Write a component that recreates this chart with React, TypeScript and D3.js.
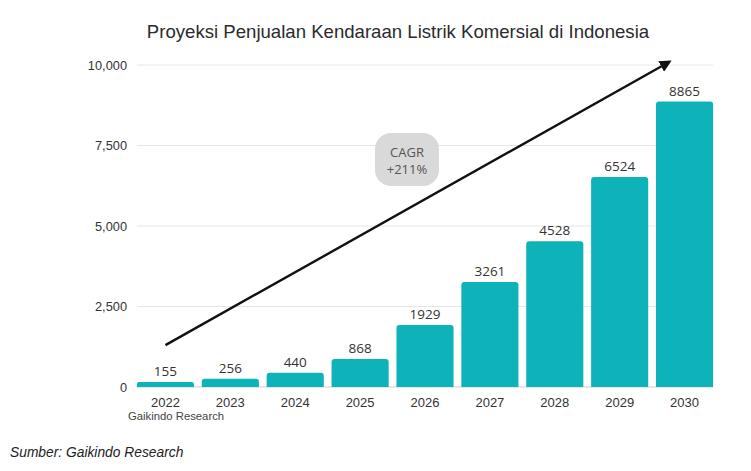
import React from 'react';
import * as d3 from 'd3';

const years = ['2022', '2023', '2024', '2025', '2026', '2027', '2028', '2029', '2030'];
const sales = [155, 256, 440, 868, 1929, 3261, 4528, 6524, 8865];
const yTicks = [0, 2500, 5000, 7500, 10000];
const cagrLines = ['CAGR', '+211%'];
// arrow from / to, in data terms: [year, value]
const arrowFrom: [string, number] = ['2022', 1300];
const arrowTo: [string, number] = ['2030', 10100];

const width = 751;
const height = 471;

const App = () => {
    const x = d3.scaleBand().domain(years).range([133, 717]).paddingInner(0.12).paddingOuter(0.06);
    const y = d3.scaleLinear().domain([0, 10000]).range([387, 65]);
    const fmt = d3.format(',');

    const barPath = (x0: number, y0: number, w: number, h: number) => {
        const r = Math.min(3, h / 2);
        const p = d3.path();
        p.moveTo(x0, y0 + h);
        p.lineTo(x0, y0 + r);
        p.quadraticCurveTo(x0, y0, x0 + r, y0);
        p.lineTo(x0 + w - r, y0);
        p.quadraticCurveTo(x0 + w, y0, x0 + w, y0 + r);
        p.lineTo(x0 + w, y0 + h);
        p.closePath();
        return p.toString();
    };

    const ax1 = x(arrowFrom[0])! + x.bandwidth() / 2;
    const ay1 = y(arrowFrom[1]);
    const ax2 = x(arrowTo[0])! + x.bandwidth() / 2 - 15;
    const ay2 = y(arrowTo[1]);

    return (
        <svg width={width} height={height} style={{ position: 'absolute', left: 0, top: 0, background: '#fff' }}>
            <defs>
                <marker id="arrowHead" viewBox="0 0 10 10" refX="8" refY="5" markerWidth="5" markerHeight="5" orient="auto">
                    <path d="M0,0 L10,5 L0,10 z" fill="#111" />
                </marker>
            </defs>
            <text x={398} y={38} textAnchor="middle" fontFamily="Liberation Sans, Arial, sans-serif" fontSize={18.6} fill="#2b2b2b">
                Proyeksi Penjualan Kendaraan Listrik Komersial di Indonesia
            </text>
            {yTicks.map((t) => (
                <g key={t}>
                    {t > 0 && <line x1={137} x2={713} y1={y(t)} y2={y(t)} stroke="#e6e6e6" strokeWidth={1} />}
                    <text x={127} y={y(t) + 4.5} textAnchor="end" fontFamily="Liberation Sans, Arial, sans-serif" fontSize={12.8} fill="#333">
                        {fmt(t)}
                    </text>
                </g>
            ))}
            <line x1={137} x2={713} y1={y(0)} y2={y(0)} stroke="#cfcfcf" strokeWidth={1} />
            {years.map((yr, i) => {
                const bx = x(yr)!;
                const by = y(sales[i]);
                return (
                    <g key={yr}>
                        <path d={barPath(bx, by, x.bandwidth(), y(0) - by)} fill="#0db3b8" />
                        <text x={bx + x.bandwidth() / 2} y={by - 6} textAnchor="middle" fontFamily="Open Sans, sans-serif" fontSize={13.5} fill="#333">
                            {sales[i]}
                        </text>
                        <text x={bx + x.bandwidth() / 2} y={407} textAnchor="middle" fontFamily="Liberation Sans, Arial, sans-serif" fontSize={13} fill="#333">
                            {yr}
                        </text>
                    </g>
                );
            })}
            <text x={128} y={420} fontFamily="Liberation Sans, Arial, sans-serif" fontSize={11.3} fill="#444">Gaikindo Research</text>
            <line x1={ax1} y1={ay1} x2={ax2} y2={ay2} stroke="#111" strokeWidth={2.4} markerEnd="url(#arrowHead)" />
            <rect x={375} y={133} width={64} height={53} rx={16} fill="#d9d9d9" />
            {cagrLines.map((l, i) => (
                <text key={l} x={407} y={157 + i * 17} textAnchor="middle" fontFamily="Open Sans, sans-serif" fontSize={13} fill="#555">
                    {l}
                </text>
            ))}
            <text x={10} y={457} fontFamily="Liberation Sans, Arial, sans-serif" fontStyle="italic" fontSize={13.8} fill="#222">
                Sumber: Gaikindo Research
            </text>
        </svg>
    );
};

export default App;
